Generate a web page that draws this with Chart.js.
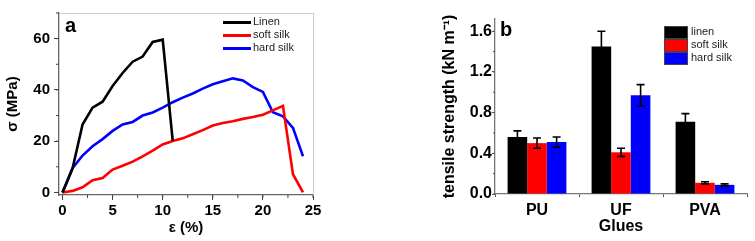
<!DOCTYPE html>
<html lang="en">
<head>
  <meta charset="UTF-8">
  <title>Stress-strain and tensile strength</title>
  <script src="https://cdn.jsdelivr.net/npm/chart.js"></script>
  <style>
    body {
      margin: 0;
      width: 755px;
      height: 241px;
      overflow: hidden;
      background: #fff;
      font-family: 'Liberation Sans', Arial, sans-serif;
      position: relative;
    }
    canvas { position: absolute; top: 0; }
    #chartA { left: 0; }
    #chartB { left: 380px; }
    .panel {
      position: absolute;
      font-weight: bold;
      font-size: 20px;
      color: #000;
      line-height: 1;
    }
    .legend {
      position: absolute;
      font-size: 11px;
      color: #222;
    }
    .legend div { height: 13px; line-height: 13px; white-space: nowrap; }
    .legend .line {
      display: inline-block;
      width: 28px;
      height: 3px;
      vertical-align: middle;
      margin-right: 2px;
    }
    .legend .box {
      display: inline-block;
      width: 22px;
      height: 11px;
      border: 1px solid #444;
      vertical-align: middle;
      margin-right: 3px;
    }
  </style>
</head>
<body>
  <canvas id="chartA" width="330" height="241"></canvas>
  <canvas id="chartB" width="375" height="241"></canvas>
  <div class="panel" style="left:65px; top:15px;">a</div>
  <div class="panel" style="left:500px; top:19px;">b</div>
  <div class="legend" id="legendA" style="left:223px; top:15px;"></div>
  <div class="legend" id="legendB" style="left:664px; top:25px;"></div>

<script>
// panel a: stress-strain curves
const strainPct = [0,1,2,3,4,5,6,7,8,9,10,11,12,13,14,15,16,17,18,19,20,21,22,23,24];
const linenStress = [0,9.3,26.5,33.1,35.4,41.5,46.6,51,53,58.7,59.6,20.1];
const softSilkStress = [0,0.6,2,4.8,5.6,8.9,10.4,12,14.1,16.3,18.7,20.1,21.1,22.7,24.3,26.1,27.1,27.8,28.7,29.4,30.3,32,33.8,7.1,0];
const hardSilkStress = [0,9.5,14.4,18,20.8,24,26.5,27.5,30,31.2,33.1,35.2,37,38.6,40.5,42.2,43.4,44.5,43.7,41.1,39.2,31.3,29.7,25.2,14.1];
const strainTicks = [0,5,10,15,20,25];
const stressTicks = [0,20,40,60];

// panel b: tensile strength by glue
const glues = ['PU','UF','PVA'];
const linenStrength = [0.56,1.45,0.71];
const linenErr = [0.06,0.15,0.08];
const softStrength = [0.50,0.41,0.11];
const softErr = [0.05,0.04,0.01];
const hardStrength = [0.51,0.97,0.09];
const hardErr = [0.05,0.105,0.01];
const strengthTicks = [0,0.4,0.8,1.2,1.6];

const seriesNamesA = ['Linen','soft silk','hard silk'];
const seriesNamesB = ['linen','soft silk','hard silk'];
const colors = ['#000000','#ff0000','#0000ff'];

const FONT = "'Liberation Sans', Arial, sans-serif";
const tickFont = { family: FONT, size: 15, weight: 'bold' };
const tickFontB = { family: FONT, size: 16, weight: 'bold' };
const titleFont = { family: FONT, size: 15, weight: 'bold' };

const pts = (ys) => ys.map((y, i) => ({ x: strainPct[i], y: y }));

// short minor ticks between the labelled ones
const minorTicks = {
  id: 'minorTicks',
  afterDraw(chart, args, opts) {
    const ctx = chart.ctx;
    ctx.save();
    ctx.strokeStyle = opts.color;
    ctx.lineWidth = 1;
    for (const id of Object.keys(opts.steps)) {
      const s = chart.scales[id];
      const step = opts.steps[id];
      for (let k = Math.ceil(s.min / step); k * step <= s.max + 1e-9; k++) {
        const p = s.getPixelForValue(k * step);
        ctx.beginPath();
        if (s.isHorizontal()) { ctx.moveTo(p, s.top); ctx.lineTo(p, s.top + opts.len); }
        else { ctx.moveTo(s.right, p); ctx.lineTo(s.right - opts.len, p); }
        ctx.stroke();
      }
    }
    ctx.restore();
  }
};

const errorBars = {
  id: 'errorBars',
  afterDatasetsDraw(chart, args, opts) {
    const ctx = chart.ctx;
    const y = chart.scales.y;
    ctx.save();
    ctx.strokeStyle = '#000';
    ctx.lineWidth = 1.6;
    chart.data.datasets.forEach((ds, i) => {
      chart.getDatasetMeta(i).data.forEach((bar, j) => {
        const v = ds.data[j], e = ds.errors[j];
        const top = y.getPixelForValue(v + e), bot = y.getPixelForValue(v - e);
        ctx.beginPath();
        ctx.moveTo(bar.x, top); ctx.lineTo(bar.x, bot);
        ctx.moveTo(bar.x - opts.cap, top); ctx.lineTo(bar.x + opts.cap, top);
        ctx.moveTo(bar.x - opts.cap, bot); ctx.lineTo(bar.x + opts.cap, bot);
        ctx.stroke();
      });
    });
    ctx.restore();
  }
};

new Chart(document.getElementById('chartA'), {
  type: 'line',
  data: {
    datasets: [
      { label: seriesNamesA[0], data: pts(linenStress), borderColor: colors[0] },
      { label: seriesNamesA[1], data: pts(softSilkStress), borderColor: colors[1] },
      { label: seriesNamesA[2], data: pts(hardSilkStress), borderColor: colors[2] }
    ].map(d => Object.assign(d, { xAxisID: 'x', yAxisID: 'y', borderWidth: 2.6, pointRadius: 0, tension: 0, fill: false }))
  },
  options: {
    responsive: false,
    animation: false,
    layout: { padding: { left: 0, right: 17, top: 9, bottom: 0 } },
    plugins: {
      legend: { display: false },
      tooltip: { enabled: false },
      minorTicks: { steps: { x: 2.5, y: 10 }, len: 3, color: '#444' }
    },
    scales: {
      x: {
        type: 'linear', position: 'bottom', min: -0.35, max: 25,
        afterBuildTicks: s => { s.ticks = strainTicks.map(v => ({ value: v })); },
        afterFit: s => { s.height = 46; },
        ticks: { font: tickFont, color: '#000', padding: 2, maxRotation: 0, autoSkip: false },
        grid: { drawOnChartArea: false, tickLength: 5, tickColor: '#444' },
        border: { color: '#666', width: 1.3 },
        title: { display: true, text: 'ε (%)', font: titleFont, color: '#000', padding: { top: 0, bottom: 4 } }
      },
      y: {
        type: 'linear', position: 'left', min: -1, max: 70,
        afterBuildTicks: s => { s.ticks = stressTicks.map(v => ({ value: v })); },
        afterFit: s => { s.width = 59; },
        ticks: { font: tickFont, color: '#000', padding: 4 },
        grid: { drawOnChartArea: false, tickLength: 5, tickColor: '#444' },
        border: { color: '#666', width: 1.3 },
        title: { display: true, text: 'σ (MPa)', font: titleFont, color: '#000', padding: { top: 4, bottom: 0 } }
      },
      x2: {
        type: 'linear', position: 'top', min: -0.35, max: 25,
        afterFit: s => { s.height = 0; },
        ticks: { display: false }, grid: { display: false },
        border: { color: '#ccc', width: 1 }
      },
      y2: {
        type: 'linear', position: 'right', min: -1, max: 70,
        afterFit: s => { s.width = 0; },
        ticks: { display: false }, grid: { display: false },
        border: { color: '#ccc', width: 1 }
      }
    }
  },
  plugins: [minorTicks]
});

new Chart(document.getElementById('chartB'), {
  type: 'bar',
  data: {
    labels: glues,
    datasets: [
      { label: seriesNamesB[0], data: linenStrength, errors: linenErr, backgroundColor: colors[0] },
      { label: seriesNamesB[1], data: softStrength, errors: softErr, backgroundColor: colors[1] },
      { label: seriesNamesB[2], data: hardStrength, errors: hardErr, backgroundColor: colors[2] }
    ].map(d => Object.assign(d, { categoryPercentage: 0.7, barPercentage: 1, borderWidth: 0 }))
  },
  options: {
    responsive: false,
    animation: false,
    layout: { padding: { left: 0, right: 8, top: 19, bottom: 0 } },
    plugins: {
      legend: { display: false },
      tooltip: { enabled: false },
      minorTicks: { steps: { y: 0.2 }, len: 2, color: '#555' },
      errorBars: { cap: 4 }
    },
    scales: {
      x: {
        afterFit: s => { s.height = 47; },
        ticks: { font: tickFontB, color: '#000', padding: 4, maxRotation: 0 },
        grid: { drawOnChartArea: false, offset: true, tickLength: 3, tickColor: '#555' },
        border: { color: '#777', width: 1.3 },
        title: { display: true, text: 'Glues', font: { family: FONT, size: 16, weight: 'bold' }, color: '#000', padding: { top: 0, bottom: 5 } }
      },
      y: {
        min: 0, max: 1.72,
        afterBuildTicks: s => { s.ticks = strengthTicks.map(v => ({ value: v })); },
        afterFit: s => { s.width = 115; },
        ticks: { font: tickFontB, color: '#000', padding: 0, callback: v => v.toFixed(1) },
        grid: { drawOnChartArea: false, tickLength: 3, tickColor: '#555' },
        border: { color: '#777', width: 1.3 },
        title: { display: true, text: 'tensile strength (kN m⁻¹)', font: { family: FONT, size: 16, weight: 'bold' }, color: '#000', padding: { top: 60, bottom: 0 } }
      }
    }
  },
  plugins: [minorTicks, errorBars]
});

// legends
document.getElementById('legendA').innerHTML = seriesNamesA.map((n, i) =>
  `<div><span class="line" style="background:${colors[i]}"></span>${n}</div>`).join('');
document.getElementById('legendB').innerHTML = seriesNamesB.map((n, i) =>
  `<div><span class="box" style="background:${colors[i]}"></span>${n}</div>`).join('');
</script>
</body>
</html>
